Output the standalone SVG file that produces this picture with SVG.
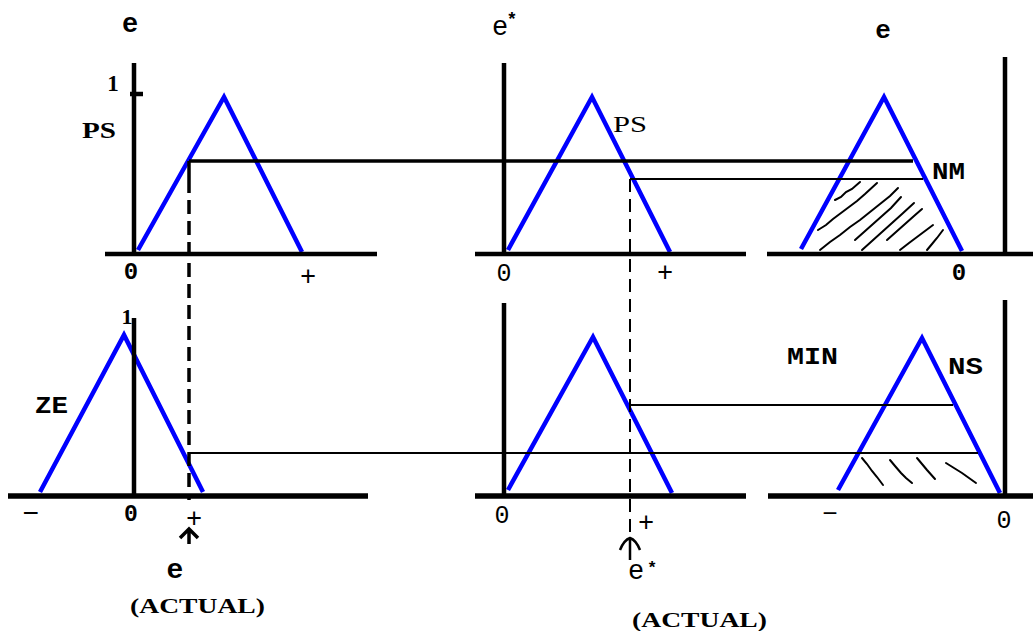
<svg xmlns="http://www.w3.org/2000/svg" width="1033" height="631" viewBox="0 0 1033 631">
<style>
.mf{fill:none;stroke:#0000ff;stroke-width:4.5;stroke-linejoin:miter}
.ax{stroke:#000;stroke-width:4.5;fill:none}
.axb{stroke:#000;stroke-width:5.5;fill:none}
.thin{stroke:#000;stroke-width:2;fill:none}
.thick{stroke:#000;stroke-width:3.5;fill:none}
.hat{stroke:#000;stroke-width:2;fill:none;stroke-linecap:round}
.b{font-family:"Liberation Mono",monospace;font-weight:bold;fill:#000}
.n{font-family:"Liberation Mono",monospace;fill:#000}
.sb{font-family:"Liberation Serif",serif;font-weight:bold;fill:#000}
.sn{font-family:"Liberation Serif",serif;fill:#000}
</style>
<rect width="1033" height="631" fill="#fff"/>

<g id="panel-e-ps">
<polyline class="mf" points="138,250 224,97 302,252"/>
<line class="ax" x1="134" y1="63" x2="134" y2="256"/>
<line class="ax" x1="130" y1="94" x2="143" y2="94"/>
<line class="ax" x1="105" y1="254" x2="377" y2="254"/>
<text class="b" x="130" y="32" font-size="27" text-anchor="middle">e</text>
<text class="sb" x="113" y="91" font-size="23" text-anchor="middle">1</text>
<text class="sb" x="82" y="138" font-size="23" textLength="34" lengthAdjust="spacingAndGlyphs">PS</text>
<text class="b" x="131" y="279" font-size="24" text-anchor="middle">0</text>
<text class="n" x="308" y="285" font-size="27" text-anchor="middle">+</text>
</g>

<g id="panel-edot-ps">
<polyline class="mf" points="508,250 592,97 670,252"/>
<line class="ax" x1="504" y1="63" x2="504" y2="256"/>
<line class="ax" x1="475" y1="254" x2="746" y2="254"/>
<text class="n" x="500" y="35" font-size="27" text-anchor="middle">e</text>
<text class="b" x="512" y="25" font-size="18" text-anchor="middle">*</text>
<text class="sn" x="613" y="132" font-size="24" textLength="34" lengthAdjust="spacingAndGlyphs">PS</text>
<text class="n" x="504" y="281" font-size="25" text-anchor="middle">0</text>
<text class="n" x="665" y="281" font-size="27" text-anchor="middle">+</text>
</g>

<g id="panel-out-nm">
<g class="hat">
<path d="M835,200 l6,-3 l5,-5 l6,-3 l8,-7"/>
<path d="M818,230 l8,-5 l7,-6 l8,-6 l8,-6 l8,-6 l8,-7 l12,-11"/>
<path d="M820,250 l10,-8 l10,-7 l10,-8 l10,-7 l10,-8 l10,-8 l10,-8 l8,-8"/>
<path d="M855,240 l9,-8 l9,-8 l9,-8 l9,-8 l10,-11"/>
<path d="M862,250 l10,-9 l10,-9 l10,-9 l10,-9 l12,-11"/>
<path d="M887,240 l9,-8 l9,-8 l9,-8 l8,-7"/>
<path d="M900,250 l9,-7 l8,-6 l8,-6 l8,-6"/>
<path d="M927,250 l5,-6 l5,-6 l6,-8"/>
</g>
<polyline class="mf" points="801,249 884,97 962,251"/>
<line class="ax" x1="1005" y1="57" x2="1005" y2="256"/>
<line class="ax" x1="767" y1="254" x2="1033" y2="254"/>
<text class="b" x="883" y="38" font-size="26" text-anchor="middle">e</text>
<text class="b" x="932" y="179" font-size="24" textLength="33" lengthAdjust="spacingAndGlyphs">NM</text>
<text class="b" x="959" y="280" font-size="24" text-anchor="middle">0</text>
</g>

<g id="panel-e-ze">
<polyline class="mf" points="40,492 124,335 203,492"/>
<line class="ax" x1="134" y1="318" x2="134" y2="496"/>
<line class="axb" x1="8" y1="496" x2="368" y2="496"/>
<text class="sb" x="127" y="324" font-size="22" text-anchor="middle">1</text>
<text class="b" x="35" y="413" font-size="23" textLength="33" lengthAdjust="spacingAndGlyphs">ZE</text>
<text class="n" x="31" y="522" font-size="28" text-anchor="middle">−</text>
<text class="b" x="131" y="521" font-size="23" text-anchor="middle">0</text>
<text class="n" x="194" y="527" font-size="27" text-anchor="middle">+</text>
<path d="M189,530 L189,544 M180,538 L189,529 L198,538" stroke="#000" stroke-width="3.5" fill="none"/>
<text class="b" x="175" y="578" font-size="28" text-anchor="middle">e</text>
<text class="sb" x="130" y="613" font-size="22" textLength="135" lengthAdjust="spacingAndGlyphs">(ACTUAL)</text>
</g>

<g id="panel-edot-mid">
<polyline class="mf" points="508,490 593,337 672,493"/>
<line class="ax" x1="504" y1="303" x2="504" y2="496"/>
<line class="axb" x1="475" y1="496" x2="746" y2="496"/>
<text class="n" x="502" y="523" font-size="25" text-anchor="middle">0</text>
<text class="n" x="646" y="531" font-size="27" text-anchor="middle">+</text>
<path d="M630,538 L630,560 M620,550 Q624,540 630,538 Q636,540 640,550" stroke="#000" stroke-width="2.5" fill="none"/>
<text class="n" x="636" y="579" font-size="27" text-anchor="middle">e</text>
<text class="b" x="652" y="573" font-size="17" text-anchor="middle">*</text>
<text class="sb" x="632" y="627" font-size="22" textLength="135" lengthAdjust="spacingAndGlyphs">(ACTUAL)</text>
</g>

<g id="panel-out-ns">
<g class="hat">
<path d="M862,458 l5,6 l5,7 l5,6 l6,8"/>
<path d="M890,460 l5,6 l6,7 l5,5 l6,5"/>
<path d="M917,458 l5,6 l5,6 l8,9"/>
<path d="M946,463 l8,5 l8,5 l7,5 l7,5"/>
</g>
<polyline class="mf" points="838,490 922,338 1000,493"/>
<line class="ax" x1="1005" y1="300" x2="1005" y2="496"/>
<line class="axb" x1="768" y1="496" x2="1033" y2="496"/>
<text class="b" x="787" y="364" font-size="24" textLength="51" lengthAdjust="spacingAndGlyphs">MIN</text>
<text class="n" x="948" y="374" font-size="24" font-weight="600" textLength="35" lengthAdjust="spacingAndGlyphs">NS</text>
<text class="n" x="830" y="522" font-size="26" text-anchor="middle">−</text>
<text class="n" x="1004" y="528" font-size="25" text-anchor="middle">0</text>
</g>

<g id="connectors">
<line class="thick" x1="189" y1="161" x2="913" y2="161"/>
<line class="thin" x1="630" y1="179" x2="923" y2="179"/>
<line class="thin" x1="630" y1="405" x2="953" y2="405"/>
<line class="thin" x1="189" y1="453" x2="978" y2="453"/>
<line class="thick" x1="189" y1="161" x2="189" y2="186"/>
<line x1="189" y1="186" x2="189" y2="500" stroke="#000" stroke-width="3.5" stroke-dasharray="14 7" stroke-dashoffset="-14"/>
<line x1="630" y1="179" x2="630" y2="537" stroke="#000" stroke-width="2" stroke-dasharray="13 7"/>
</g>
</svg>
